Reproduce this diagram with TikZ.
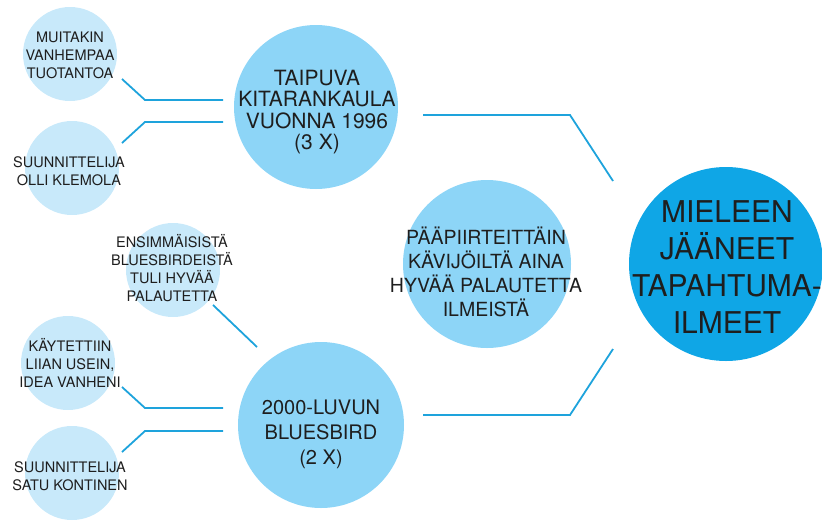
\documentclass[tikz,border=0pt]{standalone}
\usepackage{fontspec}
\setmainfont{TeX Gyre Heros}
\usetikzlibrary{calc}
\definecolor{lineblue}{HTML}{1EA3DC}
\definecolor{paleblue}{HTML}{C8E9FA}
\definecolor{midblue}{HTML}{8DD5F7}
\definecolor{deepblue}{HTML}{0FA6E6}
\definecolor{ink}{HTML}{1E1E1E}

\begin{document}
\begin{tikzpicture}[x=1pt,y=-1pt,
  disc/.style={circle,inner sep=0pt,draw=none},
  smalldisc/.style={disc,fill=paleblue,minimum size=94pt},
  middisc/.style={disc,fill=midblue},
  bigdisc/.style={disc,fill=deepblue},
  txt/.style={align=center,inner sep=0pt,text=ink},
  smalltxt/.style={txt,font=\fontsize{14.5}{18}\selectfont},
  link/.style={draw=lineblue,line width=1.8pt,line join=miter}]

\useasboundingbox (0,0) rectangle (822,520);

% discs
\node[smalldisc] (muitakin) at (70,54) {};
\node[smalldisc] (olli) at (72,168) {};
\node[smalldisc] (ensim) at (173,270) {};
\node[smalldisc] (kaytettiin) at (68,363) {};
\node[smalldisc] (satu) at (72,473) {};
\node[middisc,minimum size=164pt] (taipuva) at (316,107) {};
\node[middisc,minimum size=166pt] (bluesbird) at (321,425) {};
\node[middisc,minimum size=168pt] (palaute) at (487,264) {};
\node[bigdisc,minimum size=194pt] (ilmeet) at (726,264) {};

% labels
\node[smalltxt] (muitakin-t) at (70,55) {MUITAKIN\\VANHEMPAA\\TUOTANTOA};
\node[smalltxt] (olli-t) at (69,171) {SUUNNITTELIJA\\OLLI KLEMOLA};
\node[smalltxt] (ensim-t) at (172,268) {ENSIMMÄISISTÄ\\BLUESBIRDEISTÄ\\TULI HYVÄÄ\\PALAUTETTA};
\node[smalltxt] (kaytettiin-t) at (70,363) {KÄYTETTIIN\\LIIAN USEIN,\\IDEA VANHENI};
\node[smalltxt] (satu-t) at (70,476) {SUUNNITTELIJA\\SATU KONTINEN};
\node[txt,font=\fontsize{21}{21.5}\selectfont] (taipuva-t) at (317,112)
  {TAIPUVA\\KITARANKAULA\\VUONNA 1996\\(3 X)};
\node[txt,font=\fontsize{20}{25}\selectfont] (bluesbird-t) at (321,434)
  {2000-LUVUN\\BLUESBIRD\\(2 X)};
\node[txt,font=\fontsize{19.5}{24}\selectfont] (palaute-t) at (486,272)
  {PÄÄPIIRTEITTÄIN\\KÄVIJÖILTÄ AINA\\HYVÄÄ PALAUTETTA\\ILMEISTÄ};
\node[txt,font=\fontsize{30}{37}\selectfont] (ilmeet-t) at (727,267)
  {MIELEEN\\JÄÄNEET\\TAPAHTUMA-\\ILMEET};

% connector ends
\coordinate (muitakin-out) at (122,79);
\coordinate (olli-out) at (122,143);
\coordinate (taipuva-in1) at (223,100);
\coordinate (taipuva-in2) at (223,122);
\coordinate (kaytettiin-out) at (122,387);
\coordinate (satu-out) at (122,452);
\coordinate (bluesbird-in1) at (223,408);
\coordinate (bluesbird-in2) at (223,431);
\coordinate (ensim-out) at (213,305);
\coordinate (bluesbird-in0) at (257,347);
\coordinate (taipuva-out) at (423,115);
\coordinate (bluesbird-out) at (423,415);
\coordinate (ilmeet-in1) at (613,181);
\coordinate (ilmeet-in2) at (613,349);

% connectors
\draw[link] (muitakin-out) -- ++(23,21) -- (taipuva-in1);
\draw[link] (olli-out) -- ++(23,-21) -- (taipuva-in2);
\draw[link] (kaytettiin-out) -- ++(23,21) -- (bluesbird-in1);
\draw[link] (satu-out) -- ++(23,-21) -- (bluesbird-in2);
\draw[link] (ensim-out) -- (bluesbird-in0);
\draw[link] (taipuva-out) -- ++(147,0) -- (ilmeet-in1);
\draw[link] (bluesbird-out) -- ++(147,0) -- (ilmeet-in2);
\end{tikzpicture}
\end{document}
